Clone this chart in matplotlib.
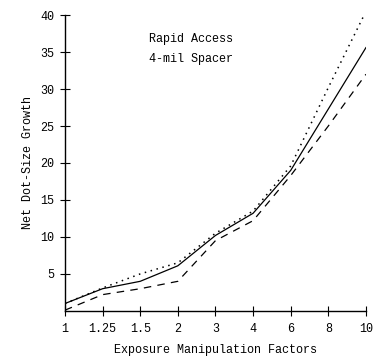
import matplotlib
matplotlib.use("Agg")
import matplotlib.pyplot as plt

factors = ["1", "1.25", "1.5", "2", "3", "4", "6", "8", "10"]
solid = [1.0, 3.0, 4.0, 6.1, 10.2, 13.2, 19.0, 27.3, 35.6]
dotted = [1.0, 3.1, 5.0, 6.5, 10.5, 13.5, 19.6, 30.2, 40.5]
dashed = [0.1, 2.2, 3.0, 4.0, 9.5, 12.2, 18.3, 25.0, 32.0]
yticks = [5, 10, 15, 20, 25, 30, 35, 40]

plt.rcParams['font.family'] = ['Liberation Mono', 'DejaVu Sans Mono']

fig = plt.figure(figsize=(3.8, 3.59), dpi=100)
ax = fig.add_axes([0.171, 0.134, 0.792, 0.824])

xs = range(len(factors))
ax.plot(xs, solid, color="black", lw=0.9, linestyle="-")
ax.plot(xs, dotted, color="black", lw=1.1, linestyle=(0, (1, 3)))
ax.plot(xs, dashed, color="black", lw=0.9, linestyle=(0, (6, 5)))

ax.set_xlim(0, 8)
ax.set_ylim(0, 40)
ax.set_xticks(list(xs))
ax.set_xticklabels(factors)
ax.set_yticks(yticks)
ax.set_yticklabels([str(v) for v in yticks])
ax.tick_params(axis="both", direction="inout", length=7, width=0.8,
               labelsize=8.5, color="black")
ax.tick_params(axis="x", pad=5)
ax.tick_params(axis="y", pad=4)

for s in ["top", "right"]:
    ax.spines[s].set_visible(False)
for s in ["left", "bottom"]:
    ax.spines[s].set_linewidth(1.0)

ax.text(0.42, 0.92, "Rapid Access", transform=ax.transAxes, ha="center",
        va="center", fontsize=8.5)
ax.text(0.42, 0.85, "4-mil Spacer", transform=ax.transAxes, ha="center",
        va="center", fontsize=8.5)

ax.set_xlabel("Exposure Manipulation Factors", fontsize=8.5, labelpad=7)
ax.set_ylabel("Net Dot-Size Growth", fontsize=8.5, labelpad=5)

fig.savefig("out.png", dpi=100)
